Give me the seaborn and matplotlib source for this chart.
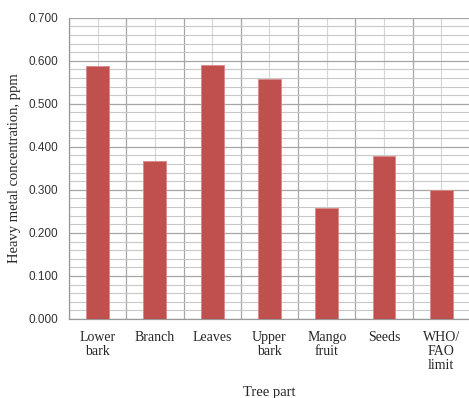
import seaborn as sns
import pandas as pd
import numpy as np
import matplotlib.pyplot as plt
from matplotlib.ticker import MultipleLocator, FixedLocator

parts = ['Lower\nbark', 'Branch', 'Leaves', 'Upper\nbark', 'Mango\nfruit', 'Seeds', 'WHO/\nFAO\nlimit']
conc = [0.588, 0.368, 0.590, 0.558, 0.258, 0.378, 0.300]

df = pd.DataFrame({'part': parts, 'conc': conc})

sns.set_style('white')
fig = plt.figure(figsize=(4.69, 3.98), dpi=100)
ax = fig.add_axes([0.147, 0.1985, 0.855, 0.757])

sns.barplot(x='part', y='conc', data=df, color='#C0504D', width=0.4,
            edgecolor='#D98A88', linewidth=0.6, saturation=1, ax=ax, zorder=3)

ax.set_ylim(0, 0.7)
ax.set_xlim(-0.5, 6.5)

# y grid: major every 0.1, minor every 0.02
ax.yaxis.set_minor_locator(MultipleLocator(0.02))
ax.set_yticks(np.arange(0, 0.71, 0.1))
ax.set_yticklabels(['%.3f' % v for v in np.arange(0, 0.71, 0.1)],
                   fontfamily='Liberation Sans', fontsize=8.5, color='#333333')

# x: labels at centers, ticks at category boundaries
ax.set_xticks(range(len(parts)))
ax.set_xticklabels(parts, fontfamily='Liberation Serif', fontsize=10, linespacing=1.1)
ax.xaxis.set_minor_locator(FixedLocator(np.arange(-0.5, 7, 1)))

ax.tick_params(axis='x', which='major', length=0, pad=9)
ax.tick_params(axis='x', which='minor', length=4, color='#999999', width=0.8)
ax.tick_params(axis='y', which='major', length=4, color='#999999', width=0.8, pad=4)
ax.tick_params(axis='y', which='minor', length=0)

ax.grid(axis='y', which='major', color='#A6A6A6', linewidth=0.9, zorder=0)
ax.grid(axis='y', which='minor', color='#C8C8C8', linewidth=0.8, zorder=0)
ax.grid(axis='x', which='minor', color='#A6A6A6', linewidth=0.9, zorder=0)
ax.grid(axis='x', which='major', color='#D6D6D6', linewidth=0.8, zorder=0)
ax.set_axisbelow(True)

for s in ['top', 'right']:
    ax.spines[s].set_visible(False)
for s in ['left', 'bottom']:
    ax.spines[s].set_color('#999999')
    ax.spines[s].set_linewidth(0.9)

ax.set_xlabel('Tree part', fontfamily='Liberation Serif', fontsize=10.5, labelpad=10)
ax.set_ylabel('Heavy metal concentration, ppm', fontfamily='Liberation Serif',
              fontsize=10.5, labelpad=5)

fig.savefig('out.png', dpi=100)
